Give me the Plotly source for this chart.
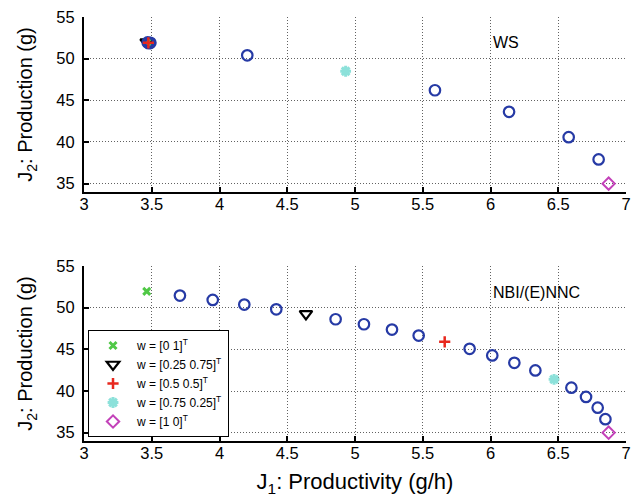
import plotly.graph_objects as go

# ---------------- data ----------------
x_ticks = [3, 3.5, 4, 4.5, 5, 5.5, 6, 6.5, 7]
y_ticks = [35, 40, 45, 50, 55]

# WS (top panel)
ws_circ_x = [3.47, 3.49, 3.48, 4.205, 5.59, 6.137, 6.577, 6.798]
ws_circ_y = [51.95, 51.9, 51.85, 50.4, 46.21, 43.62, 40.58, 37.91]
ws_w01 = ([3.465], [51.95])
ws_w2575 = ([3.462], [52.0])
ws_w55 = ([3.475], [51.9])
ws_w7525 = ([4.931], [48.49])
ws_w10 = ([6.872], [35.0])

# NBI/(E)NNC (bottom panel)
nb_circ_x = [3.708, 3.950, 4.183, 4.419, 4.857, 5.066, 5.273, 5.470,
             5.846, 6.013, 6.176, 6.331, 6.597, 6.705, 6.791, 6.848]
nb_circ_y = [51.45, 50.93, 50.37, 49.80, 48.61, 48.01, 47.37, 46.65,
             45.06, 44.27, 43.38, 42.47, 40.40, 39.29, 38.00, 36.62]
nb_w01 = ([3.463], [51.95])
nb_w2575 = ([4.638], [49.25])
nb_w55 = ([5.662], [45.9])
nb_w7525 = ([6.469], [41.4])
nb_w10 = ([6.872], [35.0])

legend_names = ["w = [0 1]<sup>T</sup>", "w = [0.25 0.75]<sup>T</sup>",
                "w = [0.5 0.5]<sup>T</sup>", "w = [0.75 0.25]<sup>T</sup>",
                "w = [1 0]<sup>T</sup>"]
panel_labels = ["WS", "NBI/(E)NNC"]

# ---------------- styles ----------------
BLUE = "rgb(38,58,165)"
GREEN = "rgb(80,200,70)"
BLACK = "black"
RED = "rgb(232,40,30)"
CYAN = "rgb(140,225,218)"
MAGENTA = "rgb(195,65,185)"

styles = [
    dict(symbol="x-thin-open", size=7, line=dict(color=GREEN, width=3), color=GREEN),
    dict(symbol="triangle-down-open", size=11, line=dict(color=BLACK, width=2.2), color=BLACK),
    dict(symbol="cross-thin-open", size=8, line=dict(color=RED, width=2.5), color=RED),
    dict(symbol="asterisk-open", size=9, line=dict(color=CYAN, width=3), color=CYAN),
    dict(symbol="diamond-open", size=9.5, line=dict(color=MAGENTA, width=2), color=MAGENTA),
]
circ_style = dict(symbol="circle-open", size=10.5, line=dict(color=BLUE, width=2.2), color=BLUE)

fig = go.Figure()

def add_panel(xa, ya, circ_x, circ_y, specials, show_legend):
    fig.add_trace(go.Scatter(x=specials[1][0], y=specials[1][1], mode="markers",
                             marker=styles[1], name=legend_names[1],
                             showlegend=show_legend, legendrank=2,
                             xaxis=xa, yaxis=ya))
    fig.add_trace(go.Scatter(x=specials[0][0], y=specials[0][1], mode="markers",
                             marker=styles[0], name=legend_names[0],
                             showlegend=show_legend, legendrank=1,
                             xaxis=xa, yaxis=ya))
    fig.add_trace(go.Scatter(x=circ_x, y=circ_y, mode="markers", marker=circ_style,
                             showlegend=False, xaxis=xa, yaxis=ya))
    for k in [2, 3, 4]:
        fig.add_trace(go.Scatter(x=specials[k][0], y=specials[k][1], mode="markers",
                                 marker=styles[k], name=legend_names[k],
                                 showlegend=show_legend, legendrank=k + 1,
                                 xaxis=xa, yaxis=ya))

add_panel("x", "y", ws_circ_x, ws_circ_y,
          [ws_w01, ws_w2575, ws_w55, ws_w7525, ws_w10], False)
add_panel("x2", "y2", nb_circ_x, nb_circ_y,
          [nb_w01, nb_w2575, nb_w55, nb_w7525, nb_w10], True)

FONT = "Liberation Sans, Arial, Helvetica, sans-serif"

axis_common = dict(
    showline=True, linecolor="black", linewidth=2,
    ticks="inside", ticklen=5, tickwidth=1.5, tickcolor="black",
    showgrid=True, gridcolor="rgba(70,70,70,0.85)", griddash="1px,2px", gridwidth=1,
    zeroline=False, tickfont=dict(size=16.5, color="black", family=FONT),
    mirror=False, automargin=False,
)

xa = dict(axis_common, range=[3, 7], tickvals=x_ticks,
          ticktext=[f"{v:g}" for v in x_ticks], ticklabelstandoff=-4)
ya = dict(axis_common, range=[34, 55], tickvals=y_ticks,
          ticktext=[str(v) for v in y_ticks], ticklabelstandoff=4)

fig.update_layout(
    width=637, height=499,
    margin=dict(l=84, r=11, t=17, b=58),
    paper_bgcolor="white", plot_bgcolor="white",
    font=dict(family=FONT, color="black"),
    xaxis=dict(xa, domain=[0, 1], anchor="y"),
    yaxis=dict(ya, domain=[0.5873, 1.0], anchor="x",
               title=dict(text="J<sub>2</sub>: Production (g)", font=dict(size=20), standoff=18)),
    xaxis2=dict(xa, domain=[0, 1], anchor="y2",
                title=dict(text="J<sub>1</sub>: Productivity (g/h)", font=dict(size=22), standoff=13)),
    yaxis2=dict(ya, domain=[0.0, 0.4127], anchor="x2",
                title=dict(text="J<sub>2</sub>: Production (g)", font=dict(size=20), standoff=18)),
    legend=dict(x=0.0074, y=0.0094, xanchor="left", yanchor="bottom",
                bgcolor="white", bordercolor="black", borderwidth=1,
                font=dict(size=12, family=FONT), itemwidth=38,
                tracegroupgap=0),
    showlegend=True,
    annotations=[
        dict(x=6.0, y=52.0, xref="x", yref="y", text=panel_labels[0],
             showarrow=False, xanchor="left", yanchor="middle",
             font=dict(size=16, family=FONT)),
        dict(x=6.0, y=51.8, xref="x2", yref="y2", text=panel_labels[1],
             showarrow=False, xanchor="left", yanchor="middle",
             font=dict(size=16, family=FONT)),
    ],
)

fig.write_html("out.html")
